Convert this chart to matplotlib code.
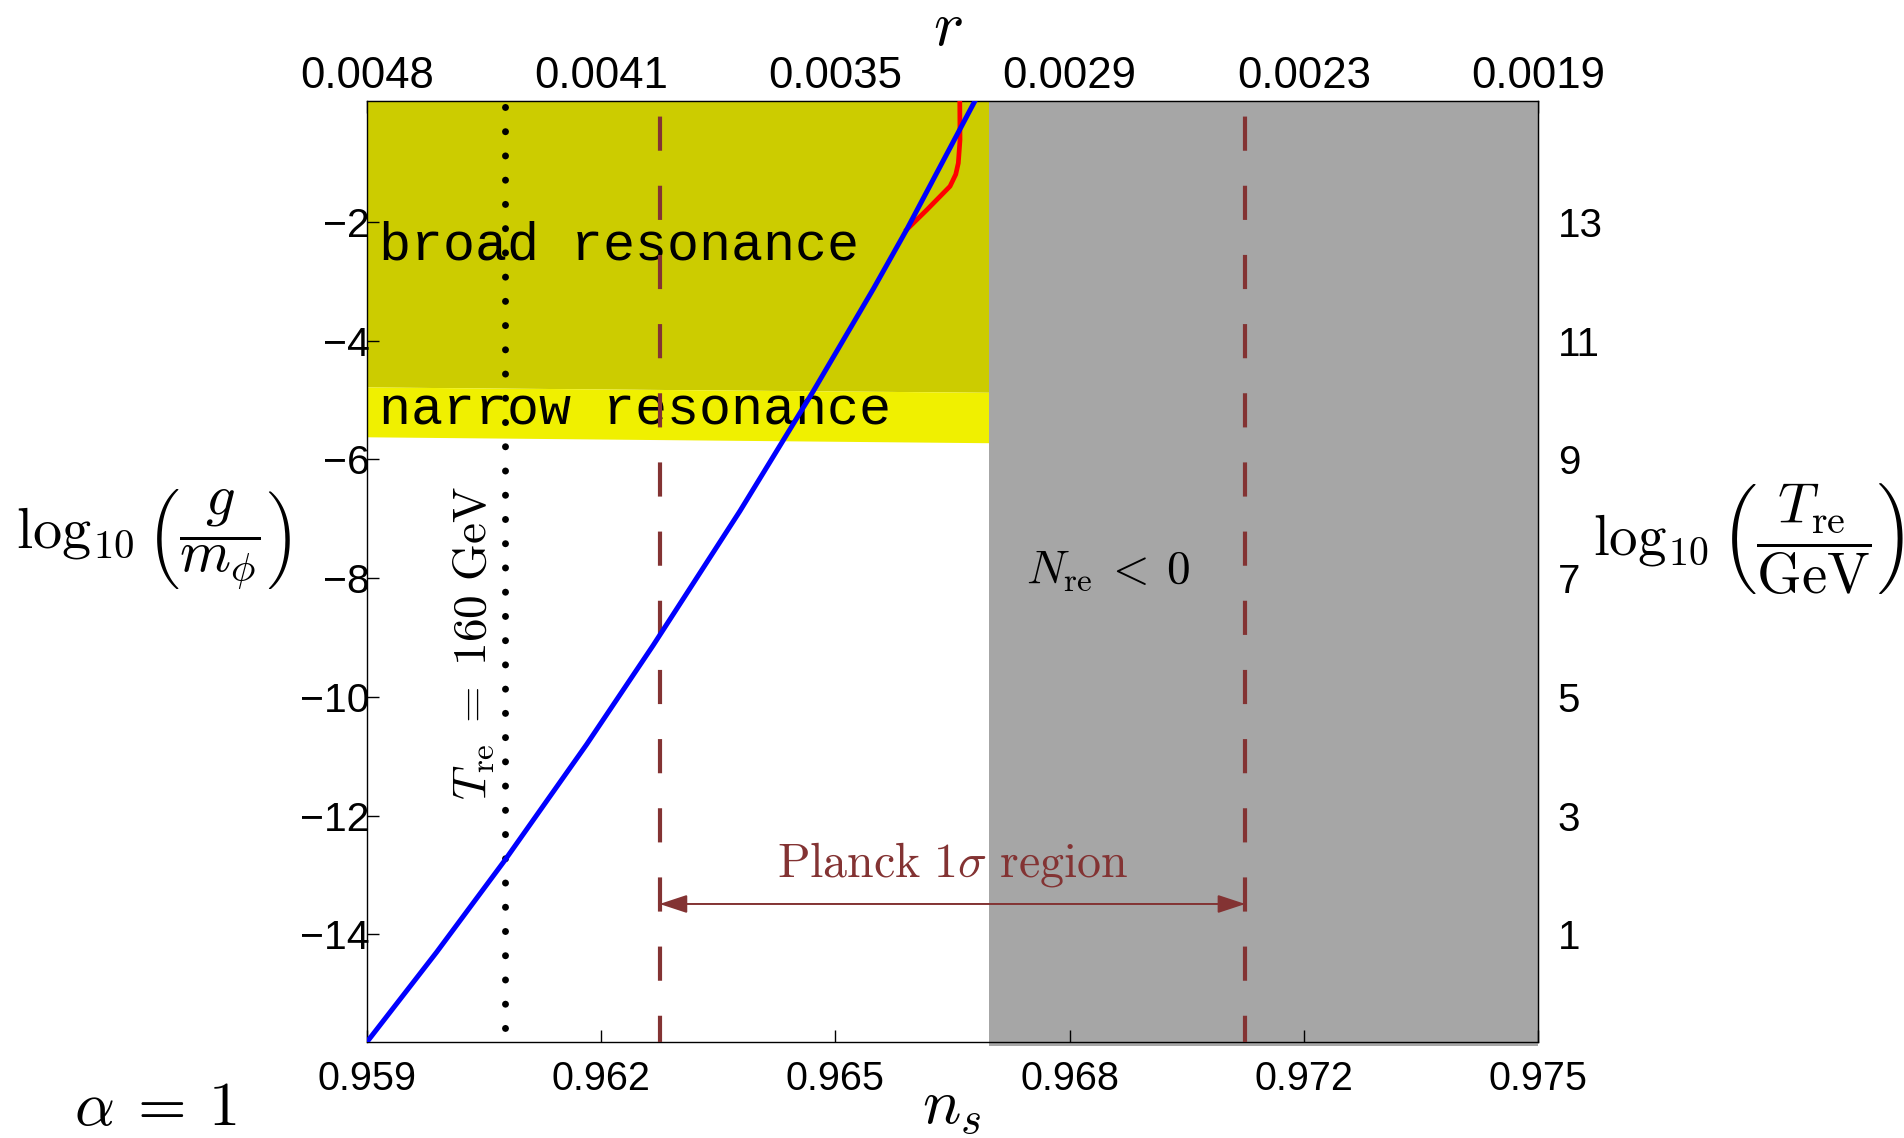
import matplotlib
matplotlib.use('Agg')
import matplotlib.pyplot as plt

plt.rcParams['mathtext.fontset'] = 'cm'
plt.rcParams['font.family'] = ['Liberation Sans', 'DejaVu Sans']

# ---------------- data ----------------
ns_ticks = [0.959, 0.9622, 0.9654, 0.9686, 0.9718, 0.975]
ns_ticklabels = ['0.959', '0.962', '0.965', '0.968', '0.972', '0.975']
r_ticklabels = ['0.0048', '0.0041', '0.0035', '0.0029', '0.0023', '0.0019']
g_ticks = [-14, -12, -10, -8, -6, -4, -2]
T_ticks = [1, 3, 5, 7, 9, 11, 13]
T_offset = 15.0

ns_blue = [0.959000, 0.959956, 0.960889, 0.962005, 0.962914, 0.964098,
           0.965100, 0.965919, 0.966375, 0.967308]
g_blue = [-15.82, -14.30, -12.75, -10.80, -9.13, -6.87,
          -4.85, -3.13, -2.13, 0.04]

ns_red = [0.966375, 0.966648, 0.966967, 0.967045, 0.967080, 0.967103, 0.967100]
g_red = [-2.13, -1.80, -1.40, -1.20, -1.01, -0.62, 0.04]

band_ns = [0.959, 0.9675]
broad_lower = [-4.78, -4.87]
narrow_lower = [-5.62, -5.72]
Nneg_ns = [0.9675, 0.975]

T160_ns = 0.960889
planck_ns = [0.963, 0.971]
arrow_g = -13.49

xlim = (0.959, 0.975)
ylim = (-15.82, 0.04)

brown = '#833333'

# ---------------- figure ----------------
W, H = 1904, 1138
fig = plt.figure(figsize=(W / 100, H / 100), dpi=100)
L, R, T, B = 366.7, 1538.2, 100.8, 1042.3
ax = fig.add_axes([L / W, 1 - B / H, (R - L) / W, (B - T) / H])
ax.set_xlim(*xlim)
ax.set_ylim(*ylim)

ax.fill_between(band_ns, broad_lower, [ylim[1]] * 2, color='#CCCC00', lw=0, zorder=1)
ax.fill_between(band_ns, narrow_lower, broad_lower, color='#F0F000', lw=0, zorder=1)
ax.fill_between(Nneg_ns, [ylim[0] - 0.07] * 2, [ylim[1]] * 2, color='#A6A6A6', lw=0,
                zorder=1, clip_on=False)

for x in planck_ns:
    ax.axvline(x, color=brown, lw=3, linestyle=(1.9, (8.2, 8.4)), zorder=3)
ax.axvline(T160_ns, color='k', lw=5, linestyle=(1.47, (0.01, 3.48)),
           dash_capstyle='round', zorder=3)

ax.plot(ns_red, g_red, color='#FF0000', lw=3.4, zorder=4)
ax.plot(ns_blue, g_blue, color='#0000FF', lw=3.6, zorder=5)

ax.annotate('', xy=(planck_ns[0], arrow_g), xytext=(planck_ns[1], arrow_g),
            arrowprops=dict(arrowstyle='<|-|>,head_length=0.85,head_width=0.28',
                            color=brown, lw=1.4, shrinkA=0, shrinkB=0,
                            mutation_scale=20), zorder=6)

ax.text(0.95917, -2.40, 'broad resonance', family='Liberation Mono', fontsize=38.4,
        ha='left', va='center', zorder=2)
ax.text(0.95917, -5.18, 'narrow resonance', family='Liberation Mono', fontsize=38.4,
        ha='left', va='center', zorder=2)
ax.text(0.960465, -9.095, r'$T_{\rm re}\;=\;160\ {\rm GeV}$', rotation=90,
        fontsize=34, ha='center', va='center', zorder=6)
ax.text(0.96913, -8.08, r'$N_{\rm re}\:<\:0$', fontsize=34, ha='center',
        va='baseline', zorder=6)
ax.text(0.967008, -13.03, r'$\mathrm{Planck\ 1}\sigma\mathrm{\ region}$', fontsize=34.5,
        color=brown, ha='center', va='baseline', zorder=6)

# ticks
ax.set_xticks(ns_ticks, labels=ns_ticklabels)
ax.set_yticks(g_ticks)
ax.tick_params(axis='x', direction='in', length=8.6, width=1, labelsize=28.5, pad=13,
               top=False)
ax.tick_params(axis='y', direction='in', length=8.6, width=1, labelsize=29.5, pad=-2,
               right=False)
for s in ax.spines.values():
    s.set_linewidth(1.0)

secx = ax.secondary_xaxis('top')
secx.set_xticks(ns_ticks, labels=r_ticklabels)
secx.tick_params(direction='in', length=8.6, width=1, labelsize=31.5, pad=3)

secy = ax.secondary_yaxis('right', functions=(lambda y: y + T_offset,
                                              lambda t: t - T_offset))
secy.set_yticks(T_ticks)
secy.tick_params(direction='in', length=8.6, width=1, labelsize=29, pad=14)

# axis labels as figure texts
fig.text(153 / W, 1 - 540 / H, r'$\log_{10}\left(\dfrac{g}{m_\phi}\right)$',
         ha='center', va='center', fontsize=42)
fig.text(1749 / W, 1 - 538 / H, r'$\log_{10}\left(\dfrac{T_{\rm re}}{\rm GeV}\right)$',
         ha='center', va='center', fontsize=41)
fig.text(948 / W, 1 - 28 / H, r'$r$', ha='center', va='center', fontsize=46)
fig.text(952 / W, 1 - 1108 / H, r'$n_s$', ha='center', va='center', fontsize=46)
fig.text(156 / W, 1 - 1108 / H, r'$\alpha\:=\:1$', ha='center', va='center', fontsize=45)

fig.savefig('out.png', dpi=100)
